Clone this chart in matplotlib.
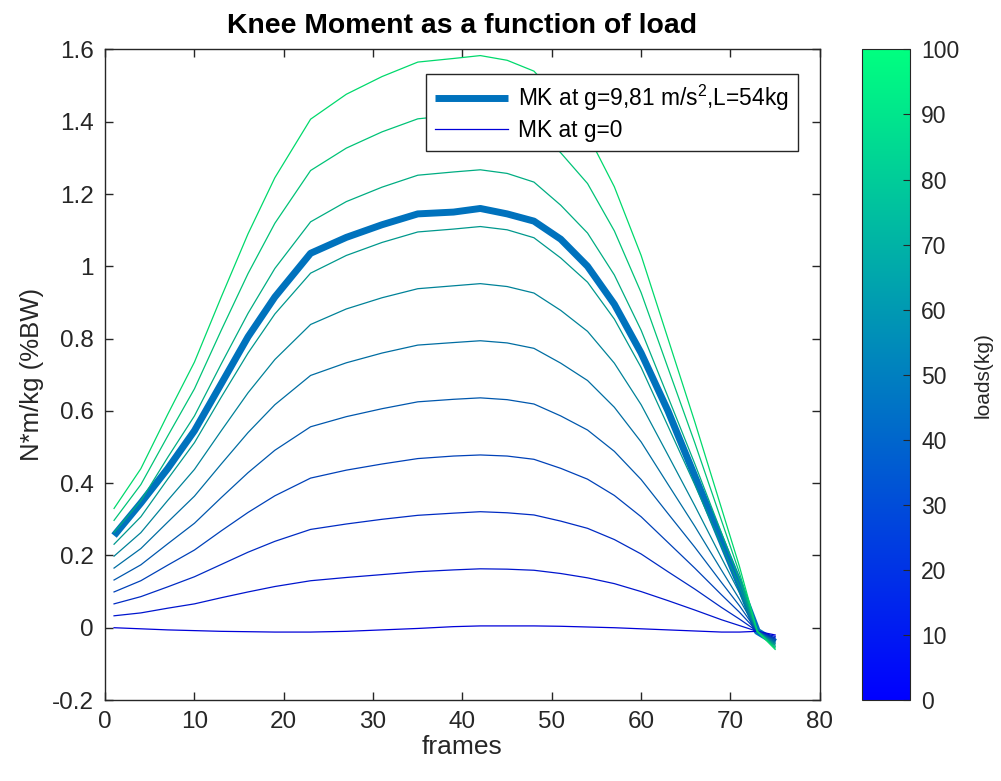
import numpy as np
import matplotlib
matplotlib.use("Agg")
import matplotlib.pyplot as plt
from matplotlib import cm, colors

plt.rcParams['font.family'] = ['Liberation Sans', 'DejaVu Sans']
plt.rcParams['mathtext.fontset'] = 'custom'
plt.rcParams['mathtext.rm'] = 'Liberation Sans'
plt.rcParams['axes.unicode_minus'] = False

# data
frames = [1, 4, 7, 10, 13, 16, 19, 23, 27, 31, 35, 39, 42, 45, 48, 51, 54, 57, 60, 63, 66, 69, 71, 73, 75]

loads = [0, 10, 20, 30, 40, 50, 60, 70, 80, 90, 100]

# knee moment for each load (g = 0 case is load 0)
mk_by_load = [
    [0.0, -0.003, -0.006, -0.008, -0.01, -0.011, -0.012, -0.012, -0.01, -0.006, -0.002, 0.003, 0.005,
     0.005, 0.005, 0.004, 0.002, 0.0, -0.003, -0.006, -0.009, -0.012, -0.012, -0.01, -0.02],
    [0.033, 0.041, 0.054, 0.066, 0.083, 0.099, 0.114, 0.130, 0.139, 0.147, 0.155, 0.160, 0.163,
     0.162, 0.159, 0.150, 0.138, 0.122, 0.100, 0.075, 0.049, 0.022, 0.006, -0.01, -0.024],
    [0.066, 0.086, 0.113, 0.141, 0.175, 0.209, 0.239, 0.272, 0.287, 0.300, 0.311, 0.317, 0.321,
     0.318, 0.312, 0.295, 0.275, 0.244, 0.204, 0.155, 0.107, 0.056, 0.024, -0.01, -0.028],
    [0.099, 0.130, 0.173, 0.215, 0.268, 0.319, 0.365, 0.414, 0.436, 0.453, 0.468, 0.475, 0.478,
     0.475, 0.466, 0.441, 0.411, 0.366, 0.307, 0.236, 0.165, 0.091, 0.043, -0.01, -0.032],
    [0.132, 0.174, 0.232, 0.289, 0.360, 0.429, 0.491, 0.556, 0.584, 0.606, 0.625, 0.632, 0.636,
     0.631, 0.619, 0.586, 0.547, 0.488, 0.410, 0.316, 0.223, 0.125, 0.061, -0.01, -0.036],
    [0.165, 0.219, 0.292, 0.364, 0.453, 0.540, 0.617, 0.698, 0.733, 0.760, 0.782, 0.789, 0.794,
     0.788, 0.773, 0.732, 0.684, 0.610, 0.514, 0.397, 0.281, 0.159, 0.079, -0.01, -0.04],
    [0.198, 0.263, 0.352, 0.438, 0.545, 0.650, 0.742, 0.839, 0.882, 0.913, 0.938, 0.946, 0.952,
     0.944, 0.926, 0.878, 0.820, 0.732, 0.617, 0.478, 0.338, 0.193, 0.097, -0.01, -0.044],
    [0.231, 0.307, 0.411, 0.512, 0.638, 0.760, 0.868, 0.981, 1.030, 1.066, 1.095, 1.103, 1.110,
     1.101, 1.079, 1.023, 0.956, 0.854, 0.720, 0.558, 0.396, 0.227, 0.115, -0.01, -0.048],
    [0.264, 0.351, 0.471, 0.586, 0.730, 0.870, 0.994, 1.123, 1.179, 1.219, 1.252, 1.261, 1.267,
     1.257, 1.233, 1.169, 1.092, 0.976, 0.823, 0.639, 0.454, 0.262, 0.134, -0.01, -0.052],
    [0.297, 0.396, 0.530, 0.661, 0.823, 0.980, 1.119, 1.265, 1.327, 1.372, 1.408, 1.418, 1.425,
     1.414, 1.387, 1.314, 1.229, 1.098, 0.927, 0.719, 0.512, 0.296, 0.152, -0.01, -0.056],
    [0.33, 0.44, 0.59, 0.735, 0.915, 1.09, 1.245, 1.407, 1.476, 1.525, 1.565, 1.575, 1.583,
     1.57, 1.54, 1.46, 1.365, 1.22, 1.03, 0.80, 0.57, 0.33, 0.17, -0.01, -0.06],
]

# g = 9.81, L = 54 kg (thick line)
mk_54kg = [0.255, 0.345, 0.44, 0.545, 0.675, 0.805, 0.915, 1.036, 1.08, 1.115, 1.145, 1.15, 1.16,
           1.145, 1.125, 1.075, 1.0, 0.895, 0.76, 0.60, 0.42, 0.24, 0.12, -0.01, -0.04]

txt = '#262626'

fig = plt.figure(figsize=(10.01, 7.81), dpi=100)
ax = fig.add_axes([0.105, 0.1037, 0.714, 0.833])
cax = fig.add_axes([0.861, 0.1037, 0.048, 0.833])

norm = colors.Normalize(vmin=0, vmax=100)
cmap = plt.get_cmap('winter')

h_thick, = ax.plot(frames, mk_54kg, color=(0, 0.447, 0.741), lw=5, solid_capstyle='butt')
handles = []
for load, mk in zip(loads, mk_by_load):
    c = np.array(cmap(norm(load))[:3]) * 0.85
    h, = ax.plot(frames, mk, color=c, lw=0.9)
    handles.append(h)

ax.set_xlim(0, 80)
ax.set_ylim(-0.2, 1.6)
ax.set_xticks(np.arange(0, 81, 10))
yt = np.round(np.arange(-0.2, 1.61, 0.2), 1)
ax.set_yticks(yt)
ax.set_yticklabels(['%g' % v for v in yt])
ax.tick_params(direction='in', top=True, right=True, labelsize=17.5, colors=txt, length=6, width=1, pad=8)
for s in ax.spines.values():
    s.set_color(txt)
    s.set_linewidth(1.0)

ax.set_title('Knee Moment as a function of load', fontsize=20.4, fontweight='bold', pad=12)
ax.set_xlabel('frames', fontsize=19, color=txt, labelpad=1)
ax.set_ylabel('N*m/kg (%BW)', fontsize=18.5, color=txt, labelpad=6)

leg = ax.legend([h_thick, handles[0]], ['MK at g=9,81 m/s$^2$,L=54kg', 'MK at g=0'],
                loc='upper right', bbox_to_anchor=(0.969, 0.963), borderaxespad=0,
                fontsize=16.4, handlelength=3.2, handletextpad=0.44, borderpad=0.4,
                labelspacing=0.25, fancybox=False, framealpha=1, edgecolor=txt)
leg.get_frame().set_linewidth(1.0)

sm = cm.ScalarMappable(norm=norm, cmap=cmap)
cb = fig.colorbar(sm, cax=cax, ticks=np.arange(0, 101, 10))
cb.outline.set_edgecolor(txt)
cb.ax.tick_params(direction='in', labelsize=16.5, colors=txt, length=5, pad=8)
cb.set_label('loads(kg)', fontsize=15, color=txt, labelpad=10)

fig.savefig('out.png', dpi=100)
